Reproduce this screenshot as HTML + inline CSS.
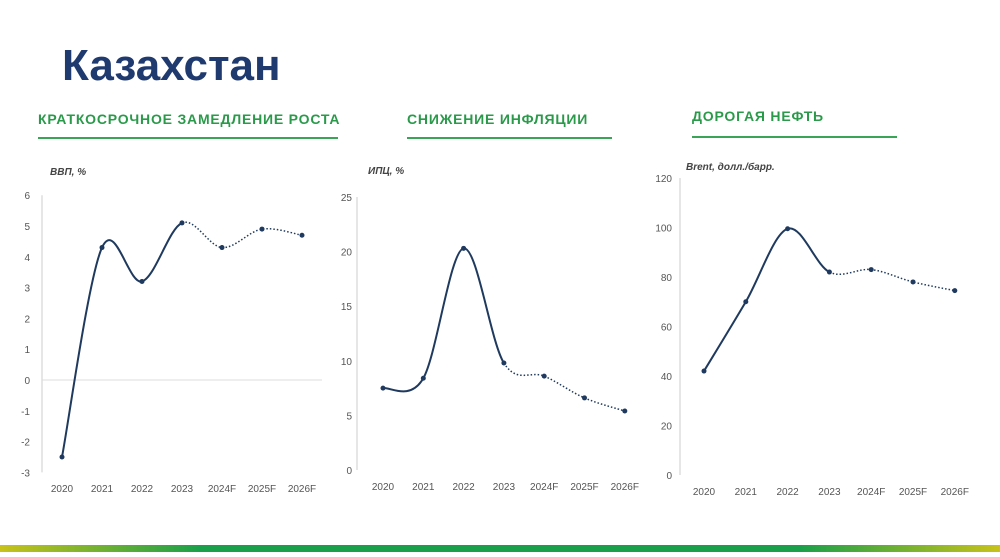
<!DOCTYPE html>
<html><head><meta charset="utf-8"><style>
body{margin:0;width:1000px;height:552px;background:#fff;overflow:hidden;font-family:"Liberation Sans",sans-serif}
</style></head><body>
<svg id="s" width="1000" height="552" xmlns="http://www.w3.org/2000/svg" font-family="Liberation Sans, sans-serif">
<defs><linearGradient id="g" x1="0" x2="1"><stop offset="0" stop-color="#c8c21a"/><stop offset="0.2" stop-color="#1aa04a"/><stop offset="0.8" stop-color="#1aa04a"/><stop offset="1" stop-color="#c8c21a"/></linearGradient></defs>
<text x="62" y="80" font-size="44" font-weight="bold" fill="#1f3a6e">Казахстан</text>
<g font-size="14" font-weight="bold" fill="#2a9a4a" letter-spacing="0.8">
<text x="38" y="124">КРАТКОСРОЧНОЕ ЗАМЕДЛЕНИЕ РОСТА</text>
<text x="407" y="124">СНИЖЕНИЕ ИНФЛЯЦИИ</text>
<text x="692" y="121">ДОРОГАЯ НЕФТЬ</text></g>
<g stroke="#3aa556" stroke-width="2"><line x1="38" y1="138" x2="338" y2="138"/><line x1="407" y1="138" x2="612" y2="138"/><line x1="692" y1="137" x2="897" y2="137"/></g>
<g font-size="10" font-style="italic" font-weight="bold" fill="#444">
<text x="50" y="175">ВВП, %</text><text x="368" y="174">ИПЦ, %</text><text x="686" y="170">Brent, долл./барр.</text></g>
<rect x="0" y="545" width="1000" height="7" fill="url(#g)"/>
<g id="c"></g>
</svg>
<script>
var c=document.getElementById('c'),h='';
function ch(o){
 var lx=o.ax;
 h+='<line x1="'+lx+'" y1="'+o.y(o.ticks[o.ticks.length-1])+'" x2="'+lx+'" y2="'+o.y(o.ticks[0])+'" stroke="#ccc"/>';
 if(o.zero!==undefined)h+='<line x1="'+lx+'" y1="'+o.y(0)+'" x2="'+(o.x0+o.dx*6+20)+'" y2="'+o.y(0)+'" stroke="#ddd"/>';
 o.ticks.forEach(function(t){h+='<text x="'+o.tx+'" y="'+(o.y(t)+4)+'" font-size="10" fill="#555" text-anchor="end">'+t+'</text>';});
 var L=['2020','2021','2022','2023','2024F','2025F','2026F'];
 L.forEach(function(l,i){h+='<text x="'+(o.x0+o.dx*i)+'" y="'+o.ly+'" font-size="10" fill="#555" text-anchor="middle">'+l+'</text>';});
 var P=o.v.map(function(v,i){return [o.x0+o.dx*i,o.y(v)];});
 function seg(a,b){var s='';for(var i=a;i<b;i++){var p0=P[Math.max(i-1,0)],p1=P[i],p2=P[i+1],p3=P[Math.min(i+2,P.length-1)];
  var c1=[p1[0]+(p2[0]-p0[0])/6,p1[1]+(p2[1]-p0[1])/6],c2=[p2[0]-(p3[0]-p1[0])/6,p2[1]-(p3[1]-p1[1])/6];
  s+=(i==a?'M'+p1[0]+' '+p1[1]:'')+' C'+c1[0]+' '+c1[1]+' '+c2[0]+' '+c2[1]+' '+p2[0]+' '+p2[1];}return s;}
 h+='<path d="'+seg(0,3)+'" fill="none" stroke="#1f3a5e" stroke-width="2"/>';
 h+='<path d="'+seg(3,6)+'" fill="none" stroke="#1f3a5e" stroke-width="1.5" stroke-dasharray="1.5 2"/>';
 P.forEach(function(p){h+='<circle cx="'+p[0]+'" cy="'+p[1]+'" r="2.5" fill="#1f3a5e"/>';});
}
ch({ax:42,tx:30,x0:62,dx:40,ly:492,zero:1,ticks:[6,5,4,3,2,1,0,-1,-2,-3],y:function(v){return 380-v*30.8;},v:[-2.5,4.3,3.2,5.1,4.3,4.9,4.7]});
ch({ax:357,tx:352,x0:383,dx:40.3,ly:490,ticks:[25,20,15,10,5,0],y:function(v){return 470-v*10.92;},v:[7.5,8.4,20.3,9.8,8.6,6.6,5.4]});
ch({ax:680,tx:672,x0:704,dx:41.8,ly:495,ticks:[120,100,80,60,40,20,0],y:function(v){return 475-v*2.475;},v:[42,70,99.5,82,83,78,74.5]});
c.innerHTML=h;
</script>
</body></html>
